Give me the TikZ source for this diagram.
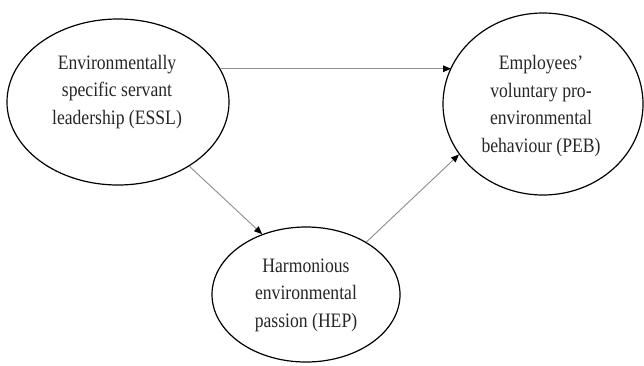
\documentclass[tikz,border=0pt]{standalone}
\usepackage{fontspec}
\setmainfont{Liberation Serif}[FakeStretch=0.86]
\usetikzlibrary{shapes.geometric,arrows.meta}
\begin{document}
\begin{tikzpicture}[x=1pt,y=-1pt,
  construct/.style={draw=black, line width=1.2pt, ellipse, inner sep=0pt},
  ctext/.style={align=center, inner sep=0pt, font=\fontsize{20.5}{27.5}\selectfont, text=black!85},
  path/.style={draw=black!45, line width=0.9pt, -{Triangle[length=8pt,width=6.5pt,color=black]}}]
\useasboundingbox (0,0) rectangle (644,365);
\node[construct, minimum width=222pt, minimum height=166pt] (essl) at (118,102) {};
\node[construct, minimum width=200pt, minimum height=182pt] (peb) at (543,104) {};
\node[construct, minimum width=188pt, minimum height=135pt] (hep) at (306,294.5) {};
\node[ctext] (essltext) at (117,92) {Environmentally\\specific servant\\leadership (ESSL)};
\node[ctext] (pebtext) at (541,106) {Employees'\\voluntary pro-\\environmental\\behaviour (PEB)};
\node[ctext] (heptext) at (306,295) {Harmonious\\environmental\\passion (HEP)};
\draw[path] (essl.18.5) -- (essl.18.5 -| peb.158.6);
\draw[path] (essl.-42) -- (hep.126.8);
\draw[path] (hep.41.8) -- (peb.211);
\end{tikzpicture}
\end{document}
